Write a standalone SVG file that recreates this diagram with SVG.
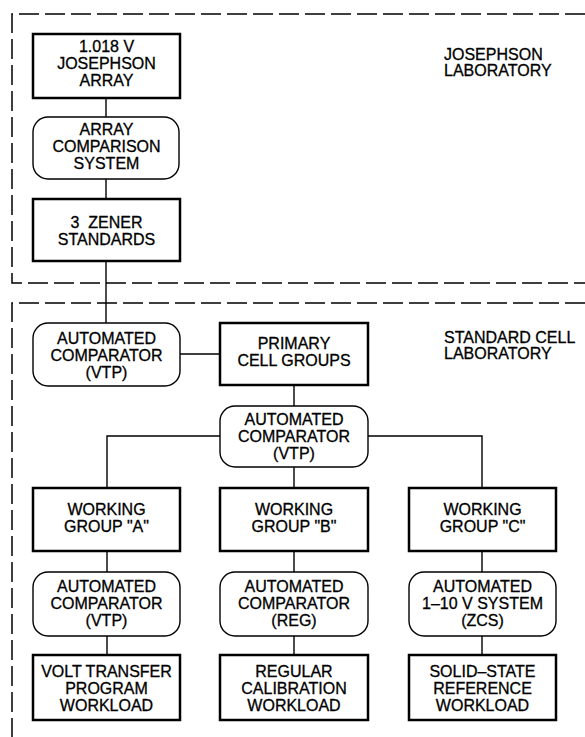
<svg xmlns="http://www.w3.org/2000/svg" width="585" height="737" viewBox="0 0 585 737">
<style>
.bg{fill:#fff}
.lab{fill:none;stroke:#000;stroke-width:1.5;stroke-dasharray:20 6}
.box{fill:#fff;stroke:#000;stroke-width:2.5}
.rbox{fill:#fff;stroke:#000;stroke-width:1.4}
.con{fill:none;stroke:#000;stroke-width:1.4}
text{font-family:"Liberation Sans",Arial,sans-serif;font-size:16px;fill:#000;stroke:#000;stroke-width:0.3;text-anchor:middle}
.lt{text-anchor:start}
</style>
<rect class="bg" x="0" y="0" width="585" height="737"/>
<g id="regions">
<path class="lab" d="M585,14 H12 V283 H585"/>
<path class="lab" d="M585,303 H12 V737"/>
<text class="lt" x="444" y="60">JOSEPHSON</text>
<text class="lt" x="444" y="76">LABORATORY</text>
<text class="lt" x="444" y="343">STANDARD CELL</text>
<text class="lt" x="444" y="359">LABORATORY</text>
</g>
<g id="connectors">
<path class="con" d="M106,98 V117"/>
<path class="con" d="M106,179 V199"/>
<path class="con" d="M106,261 V323"/>
<path class="con" d="M180,354 H220"/>
<path class="con" d="M294,385 V406"/>
<path class="con" d="M294,467 V488"/>
<path class="con" d="M220,436 H107 V488"/>
<path class="con" d="M368,436 H482 V488"/>
<path class="con" d="M107,551 V572 M107,636 V655"/>
<path class="con" d="M294,551 V572 M294,636 V655"/>
<path class="con" d="M482,551 V572 M482,636 V655"/>
</g>
<g id="josephson-array">
<rect class="box" x="33" y="34" width="147" height="64"/>
<text x="106.5" y="52">1.018 V</text>
<text x="106.5" y="69">JOSEPHSON</text>
<text x="106.5" y="86">ARRAY</text>
</g>
<g id="array-comparison">
<rect class="rbox" x="33" y="117" width="146" height="62" rx="15"/>
<text x="106.5" y="135">ARRAY</text>
<text x="106.5" y="152">COMPARISON</text>
<text x="106.5" y="169">SYSTEM</text>
</g>
<g id="zener">
<rect class="box" x="33" y="199" width="147" height="62"/>
<text x="106.5" y="228" xml:space="preserve">3  ZENER</text>
<text x="106.5" y="245">STANDARDS</text>
</g>
<g id="auto-comp-vtp-1">
<rect class="rbox" x="33" y="323" width="147" height="63" rx="15"/>
<text x="106.5" y="344">AUTOMATED</text>
<text x="106.5" y="361">COMPARATOR</text>
<text x="106.5" y="378">(VTP)</text>
</g>
<g id="primary-cell">
<rect class="box" x="220" y="323" width="148" height="62"/>
<text x="294" y="349">PRIMARY</text>
<text x="294" y="366">CELL GROUPS</text>
</g>
<g id="auto-comp-vtp-2">
<rect class="rbox" x="220" y="406" width="148" height="61" rx="15"/>
<text x="294" y="425">AUTOMATED</text>
<text x="294" y="442">COMPARATOR</text>
<text x="294" y="459">(VTP)</text>
</g>
<g id="wg-a">
<rect class="box" x="33" y="488" width="147" height="63"/>
<text x="106.5" y="515">WORKING</text>
<text x="106.5" y="532">GROUP "A"</text>
</g>
<g id="wg-b">
<rect class="box" x="220" y="488" width="148" height="63"/>
<text x="294" y="515">WORKING</text>
<text x="294" y="532">GROUP "B"</text>
</g>
<g id="wg-c">
<rect class="box" x="409" y="488" width="147" height="63"/>
<text x="482.5" y="515">WORKING</text>
<text x="482.5" y="532">GROUP "C"</text>
</g>
<g id="auto-a">
<rect class="rbox" x="33" y="572" width="147" height="64" rx="15"/>
<text x="106.5" y="592">AUTOMATED</text>
<text x="106.5" y="609">COMPARATOR</text>
<text x="106.5" y="626">(VTP)</text>
</g>
<g id="auto-b">
<rect class="rbox" x="220" y="572" width="148" height="64" rx="15"/>
<text x="294" y="592">AUTOMATED</text>
<text x="294" y="609">COMPARATOR</text>
<text x="294" y="626">(REG)</text>
</g>
<g id="auto-c">
<rect class="rbox" x="409" y="572" width="147" height="64" rx="15"/>
<text x="482.5" y="592">AUTOMATED</text>
<text x="482.5" y="609">1–10 V SYSTEM</text>
<text x="482.5" y="626">(ZCS)</text>
</g>
<g id="workload-a">
<rect class="box" x="33" y="655" width="147" height="65"/>
<text x="106.5" y="677">VOLT TRANSFER</text>
<text x="106.5" y="694">PROGRAM</text>
<text x="106.5" y="711">WORKLOAD</text>
</g>
<g id="workload-b">
<rect class="box" x="220" y="655" width="148" height="65"/>
<text x="294" y="677">REGULAR</text>
<text x="294" y="694">CALIBRATION</text>
<text x="294" y="711">WORKLOAD</text>
</g>
<g id="workload-c">
<rect class="box" x="409" y="655" width="147" height="65"/>
<text x="482.5" y="677">SOLID–STATE</text>
<text x="482.5" y="694">REFERENCE</text>
<text x="482.5" y="711">WORKLOAD</text>
</g>
</svg>
